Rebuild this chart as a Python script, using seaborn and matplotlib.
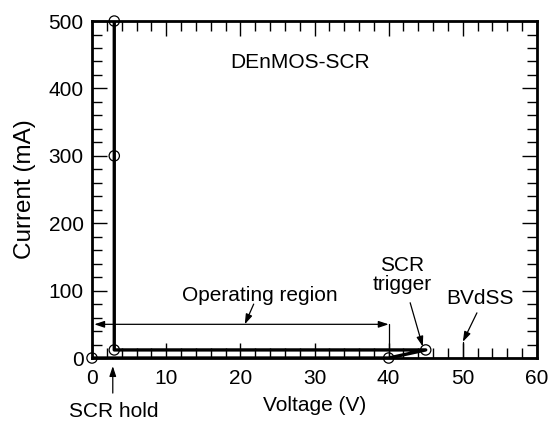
import matplotlib
matplotlib.use("Agg")
import matplotlib.pyplot as plt
import seaborn as sns
import pandas as pd
from matplotlib.ticker import MultipleLocator

# data
voltage = [0, 40, 45, 3, 3, 3]
current = [0, 0, 12, 12, 300, 500]
x_ticks = [0, 10, 20, 30, 40, 50, 60]
y_ticks = [0, 100, 200, 300, 400, 500]

df = pd.DataFrame({"Voltage (V)": voltage, "Current (mA)": current})

sns.set_style("ticks")
plt.rcParams['font.family'] = ['Liberation Sans', 'DejaVu Sans']
for k in ["text.color", "axes.labelcolor", "xtick.color", "ytick.color", "axes.edgecolor"]:
    plt.rcParams[k] = "black"

FS = 15

fig = plt.figure(figsize=(5.52, 4.21), dpi=100)
ax = fig.add_axes([0.1667, 0.1496, 0.8061, 0.8004])

sns.lineplot(data=df, x="Voltage (V)", y="Current (mA)", sort=False, estimator=None,
             color="black", linewidth=2.4, ax=ax)
sns.scatterplot(data=df, x="Voltage (V)", y="Current (mA)", ax=ax, s=55,
                facecolor="none", edgecolor="black", linewidth=0.9, zorder=5, clip_on=False)

ax.set_xlim(0, 60)
ax.set_ylim(0, 500)
ax.set_xticks(x_ticks)
ax.set_yticks(y_ticks)
ax.xaxis.set_minor_locator(MultipleLocator(2))
ax.yaxis.set_minor_locator(MultipleLocator(20))
ax.tick_params(which="both", direction="in", top=True, right=True, width=1.0, color="black",
               labelsize=FS, labelcolor="black")
ax.tick_params(which="major", length=11)
ax.tick_params(which="minor", length=7)
ax.tick_params(axis="x", pad=8)
ax.tick_params(axis="y", pad=6)
for s in ax.spines.values():
    s.set_linewidth(2.0)
    s.set_color("black")

ax.set_xlabel("Voltage (V)", fontsize=FS, labelpad=6)
ax.set_ylabel("Current (mA)", fontsize=17.5, labelpad=9)

# annotations
arrow = dict(arrowstyle="-|>,head_length=0.6,head_width=0.2",
             color="black", lw=0.9, shrinkA=0, shrinkB=0)
ax.text(28, 439, "DEnMOS-SCR", ha="center", va="center", fontsize=FS)
ax.annotate("", xy=(0.3, 50), xytext=(40, 50),
            arrowprops=dict(arrowstyle="<|-|>,head_length=0.6,head_width=0.2",
                            color="black", lw=0.9, shrinkA=0, shrinkB=0))
ax.plot([40, 40], [0, 50], color="black", lw=0.9)
ax.text(22.6, 93, "Operating region", ha="center", va="center", fontsize=FS)
ax.annotate("", xy=(20.6, 50), xytext=(21.8, 80), arrowprops=arrow)
ax.text(41.8, 123, "SCR\ntrigger", ha="center", va="center", fontsize=FS, linespacing=1.05)
ax.annotate("", xy=(44.6, 17), xytext=(42.9, 82), arrowprops=arrow)
ax.plot([50, 50], [0, 24], color="black", lw=0.9)
ax.text(52.3, 89, "BVdSS", ha="center", va="center", fontsize=FS)
ax.annotate("", xy=(50, 24), xytext=(51.9, 67), arrowprops=arrow)
ax.annotate("", xy=(2.8, -12), xytext=(2.8, -52), annotation_clip=False, arrowprops=arrow)
ax.text(2.9, -80, "SCR hold", ha="center", va="center", fontsize=FS, clip_on=False)

fig.savefig("out.png", dpi=100)
